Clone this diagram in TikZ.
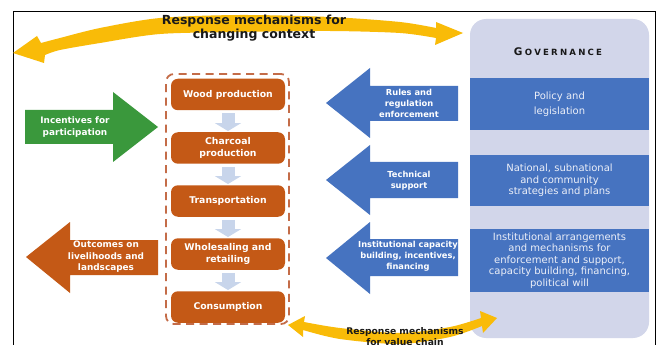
\documentclass[tikz,border=0pt]{standalone}
\usepackage{fontspec}
\setmainfont{DejaVu Sans}
\usetikzlibrary{arrows.meta,calc}
\definecolor{orng}{RGB}{196,89,22}
\definecolor{dashc}{RGB}{196,108,72}
\definecolor{bluec}{RGB}{70,115,192}
\definecolor{panelc}{RGB}{210,214,234}
\definecolor{greenc}{RGB}{58,152,60}
\definecolor{yel}{RGB}{249,187,8}
\definecolor{flowc}{RGB}{200,213,235}
\definecolor{bandtxt}{RGB}{236,239,248}
\definecolor{darktxt}{RGB}{25,25,25}
\begin{document}
\begin{tikzpicture}[x=1pt,y=-1pt,
  stage/.style={fill=orng, rounded corners=7pt, minimum width=114pt, minimum height=31.5pt,
    text=white, font=\bfseries\fontsize{9.3}{11.5}\selectfont, align=center, inner sep=0pt},
  band/.style={fill=bluec, minimum width=179pt, inner sep=0pt, text=bandtxt, align=center,
    font=\fontsize{10}{11.5}\selectfont},
  arrowtxt/.style={text=white, align=center, font=\bfseries\fontsize{8.3}{11}\selectfont, inner sep=0pt},
  sidetxt/.style={text=white, align=center, font=\bfseries\fontsize{8.9}{11.5}\selectfont, inner sep=0pt},
  flowarr/.style={draw=flowc, line width=13pt, -{Triangle[length=8pt,width=26pt]}},
  chainbox/.style={draw=dashc, line width=1.8pt, dash pattern=on 8pt off 5.5pt, rounded corners=8pt,
    minimum width=123pt, minimum height=250pt, inner sep=0pt},
]
\useasboundingbox (0,0) rectangle (657,345);
\fill[white] (0,0) rectangle (657,345);
% frame
\draw[black, line width=0.9pt] (13,346) -- (13,11) -- (655.5,11) -- (655.5,346);

% governance panel
\node[fill=panelc, rounded corners=16pt, minimum width=179pt, minimum height=319pt, inner sep=0pt] (gov) at (559.5,178.5) {};
\node[text=darktxt, font=\bfseries, inner sep=0pt] (govtitle) at (558,52)
  {{\fontsize{10.5}{12}\selectfont G}\kern2.2pt{\fontsize{8.6}{12}\selectfont O\kern2.2pt V\kern2.2pt E\kern2.2pt R\kern2.2pt N\kern2.2pt A\kern2.2pt N\kern2.2pt C\kern2.2pt E}};
\node[band, minimum height=52pt, font=\fontsize{10}{15}\selectfont] (policy) at (559.5,104) {Policy and\\legislation};
\node[band, minimum height=51pt] (national) at (559.5,180.5) {National, subnational\\and community\\strategies and plans};
\node[band, minimum height=63pt] (inst) at (559.5,260.5) {Institutional arrangements\\and mechanisms for\\enforcement and support,\\capacity building, financing,\\political will};

% blue arrows
\fill[bluec] (326,103) -- (370,68) -- (370,86) -- (458,86) -- (458,121) -- (370,121) -- (370,138) -- cycle;
\fill[bluec] (326,180) -- (370,145) -- (370,162) -- (458,162) -- (458,198) -- (370,198) -- (370,215) -- cycle;
\fill[bluec] (326,258) -- (370,222) -- (370,239) -- (458,239) -- (458,276) -- (370,276) -- (370,294) -- cycle;
\node[arrowtxt] (rules) at (409,103) {Rules and\\regulation\\enforcement};
\node[arrowtxt] (tech) at (409,181) {Technical\\support};
\node[arrowtxt] (capac) at (408,256) {Institutional capacity\\building, incentives,\\financing};

% green and orange side arrows
\fill[greenc] (25,110) -- (113,110) -- (113,92) -- (158,127) -- (113,162) -- (113,144) -- (25,144) -- cycle;
\node[sidetxt] (incent) at (75,127) {Incentives for\\participation};
\fill[orng] (26,257) -- (70,222) -- (70,240) -- (158,240) -- (158,275) -- (70,275) -- (70,293) -- cycle;
\node[sidetxt] (outc) at (106,257) {Outcomes on\\livelihoods and\\landscapes};

% value chain
\node[chainbox] (chain) at (227.5,199) {};
\node[stage] (wood) at (228,94.5) {Wood production};
\node[stage] (char) at (228,148) {Charcoal\\production};
\node[stage] (trans) at (228,201) {Transportation};
\node[stage] (whole) at (228,254) {Wholesaling and\\retailing};
\node[stage] (cons) at (228,307) {Consumption};
\draw[flowarr] ($(wood.south)+(0,3)$) -- ($(char.north)+(0,-1)$);
\draw[flowarr] ($(char.south)+(0,3)$) -- ($(trans.north)+(0,-1)$);
\draw[flowarr] ($(trans.south)+(0,3)$) -- ($(whole.north)+(0,-1)$);
\draw[flowarr] ($(whole.south)+(0,3)$) -- ($(cons.north)+(0,-1)$);

% top yellow arrow
\fill[yel] (13,53) -- (37,36) -- (41,43)
  -- plot[smooth] coordinates {(41,43) (60,38) (100,28) (160,18) (240,15) (330,17) (400,22) (436,28)}
  -- (436,22) -- (463,33) -- (435,45) -- (436,38)
  -- plot[smooth] coordinates {(436,38) (400,33) (330,31) (240,32) (160,34) (100,43) (60,50) (45,55)}
  -- (44,63) -- cycle;
\node[text=darktxt, align=center, font=\bfseries\fontsize{12.5}{14}\selectfont, inner sep=0pt] (ctxt) at (254,28)
  {Response mechanisms for\\changing context};

% bottom yellow arrow
\fill[yel] (288,325) -- (305,316) -- (304,322)
  -- plot[smooth] coordinates {(304,322) (340,328) (400,333) (450,327) (481,318)}
  -- (480,311) -- (497,318) -- (483,333) -- (482,326)
  -- plot[smooth] coordinates {(482,326) (450,337) (400,344) (340,339) (303,330)}
  -- (303,337) -- cycle;
\node[text=darktxt, align=center, font=\bfseries\fontsize{9.2}{11}\selectfont, inner sep=0pt] (vtxt) at (405,337)
  {Response mechanisms\\for value chain};
\end{tikzpicture}
\end{document}
